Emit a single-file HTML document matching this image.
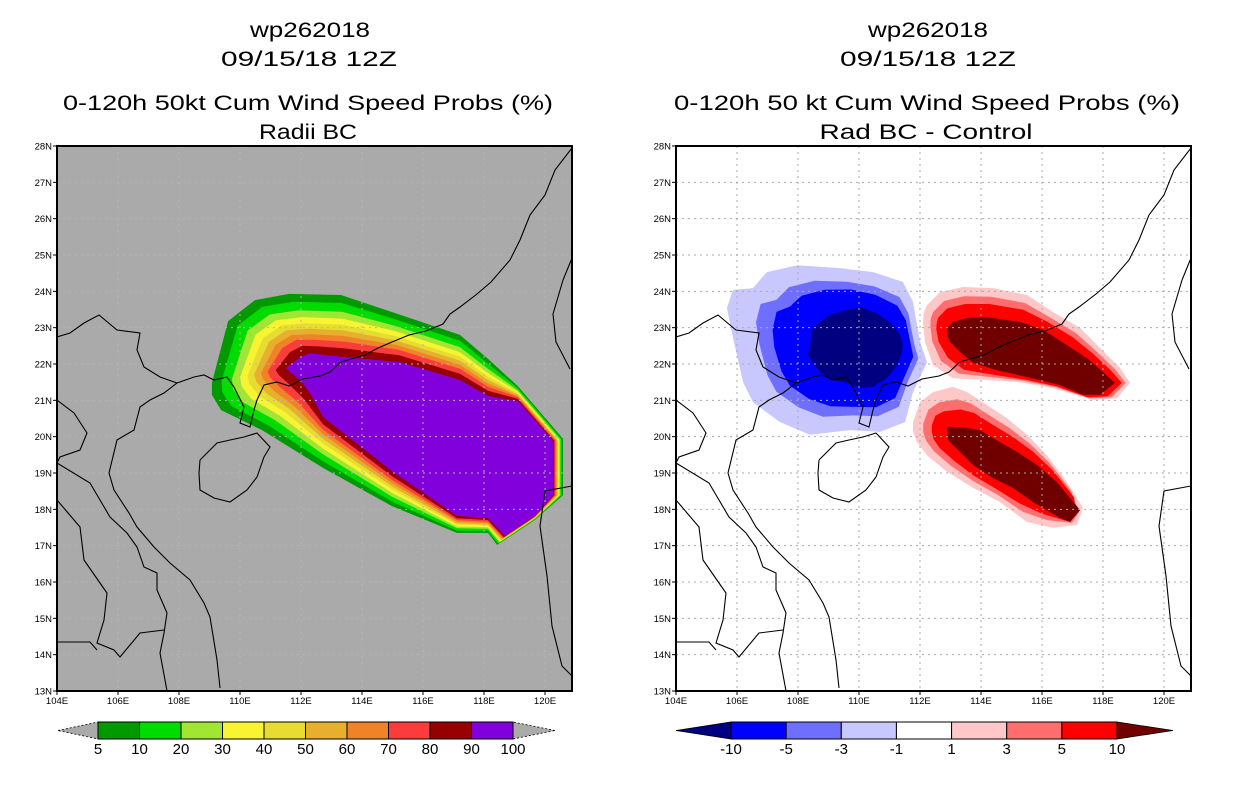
<!DOCTYPE html>
<html><head><meta charset="utf-8">
<style>
html,body{margin:0;padding:0;background:#fff;}
svg{display:block;font-family:"Liberation Sans",sans-serif;}
</style></head>
<body>
<svg id="svg" width="1236" height="800" viewBox="0 0 1236 800" xmlns="http://www.w3.org/2000/svg">
<g font-size="21" text-anchor="middle" fill="#000">
<text x="310" y="37" textLength="120" lengthAdjust="spacingAndGlyphs">wp262018</text>
<text x="309" y="66" textLength="176" lengthAdjust="spacingAndGlyphs">09/15/18 12Z</text>
<text x="308" y="110" textLength="490" lengthAdjust="spacingAndGlyphs">0-120h 50kt Cum Wind Speed Probs (%)</text>
<text x="308" y="139" textLength="98" lengthAdjust="spacingAndGlyphs">Radii BC</text>
</g>
<g font-size="21" text-anchor="middle" fill="#000">
<text x="928" y="37" textLength="120" lengthAdjust="spacingAndGlyphs">wp262018</text>
<text x="928" y="66" textLength="176" lengthAdjust="spacingAndGlyphs">09/15/18 12Z</text>
<text x="927" y="110" textLength="506" lengthAdjust="spacingAndGlyphs">0-120h 50 kt Cum Wind Speed Probs (%)</text>
<text x="926" y="139" textLength="213" lengthAdjust="spacingAndGlyphs">Rad BC - Control</text>
</g>
</svg>
<script>
// ---- data (lon/lat) ----
const lonTicks=[104,106,108,110,112,114,116,118,120];
const latTicks=[28,27,26,25,24,23,22,21,20,19,18,17,16,15,14,13];
const probLevels=[5,10,20,30,40,50,60,70,80,90];
const probColors=['#009a00','#00dc00','#a0e632','#f8f432','#e6dc32','#e6af2d','#f08228','#fa3c3c','#960000','#8200dc'];
const probBlend=[0,0.13,0.27,0.38,0.48,0.57,0.66,0.75,0.86,1];
const probOuterLon=[109.08,109.61,110.49,111.61,113.31,114.98,117.21,118.13,119.11,120.59,120.59,119.67,118.43,118.13,117.11,114.98,112.72,110.72,109.38,109.08];
const probOuterLat=[21.48,23.18,23.76,23.93,23.90,23.43,22.80,22.14,21.39,19.94,18.39,17.71,17.02,17.35,17.35,18.09,19.14,20.18,20.73,21.15];
const probInnerLon=[111.51,111.97,112.30,112.72,113.44,115.25,117.21,118.13,119.11,120.26,120.26,119.67,118.69,118.13,117.11,114.98,112.72,112.30,111.97,111.64];
const probInnerLat=[21.89,22.19,22.30,22.25,22.19,22.05,21.56,21.12,20.98,19.88,18.39,17.82,17.27,17.76,17.82,19.05,20.54,21.20,21.56,21.78];
const diffLabels=['-10','-5','-3','-1','1','3','5','10'];
const diffColors=['#000080','#0000ff','#6e6eff','#c8c8ff','#ffffff','#ffc8c8','#ff6e6e','#ff0000','#700000'];
const blueBlend=[0,0.35,0.55,1];
const blueColors=['#c8c8ff','#6e6eff','#0000ff','#000080'];
const redBlend=[0,0.3,0.55,1];
const redColors=['#ffc8c8','#ff6e6e','#ff0000','#700000'];
const blueOuterLon=[105.67,105.87,106.52,106.98,107.97,109.38,110.46,111.44,111.77,112.00,112.23,111.77,111.51,110.69,109.70,108.39,107.41,106.52,106.20,105.87];
const blueOuterLat=[23.54,24.04,24.09,24.53,24.72,24.64,24.53,24.26,23.71,22.61,22.05,21.23,20.40,20.13,20.18,20.05,20.40,20.95,21.50,22.72];
const blueInnerLon=[108.39,108.46,108.72,109.05,109.61,110.03,110.59,111.11,111.34,111.44,111.41,111.25,110.92,110.46,110.03,109.61,109.15,108.72,108.49,108.33];
const blueInnerLat=[22.44,22.94,23.16,23.35,23.49,23.57,23.40,23.07,22.80,22.52,22.33,21.97,21.61,21.37,21.34,21.48,21.56,21.78,22.05,22.25];
const redUOuterLon=[112.23,112.66,113.41,114.39,115.51,116.36,117.25,117.90,118.56,118.89,118.46,117.67,116.36,115.28,114.20,113.08,112.43,112.16,112.10,112.13];
const redUOuterLat=[23.62,23.98,24.12,24.09,23.90,23.43,22.99,22.44,21.89,21.48,21.06,21.01,21.34,21.50,21.56,21.61,21.97,22.61,23.16,23.43];
const redUInnerLon=[112.89,113.08,113.54,114.20,115.28,116.03,116.82,117.48,118.00,118.39,117.90,117.34,116.59,115.51,114.52,113.74,113.31,112.98,112.89,112.89];
const redUInnerLat=[22.99,23.16,23.27,23.29,23.16,22.94,22.52,22.16,21.78,21.48,21.15,21.15,21.42,21.64,21.83,22.03,22.33,22.61,22.80,22.88];
const redLOuterLon=[111.77,112.00,112.43,113.08,113.54,114.20,114.85,115.51,116.16,116.82,117.34,117.15,116.36,115.51,114.62,113.74,112.89,112.23,111.90,111.77];
const redLOuterLat=[20.40,20.95,21.23,21.37,21.23,20.87,20.51,20.05,19.49,18.75,18.04,17.57,17.49,17.65,18.20,18.59,19.03,19.49,19.85,20.13];
const redLInnerLon=[112.89,112.92,113.08,113.54,113.97,114.39,115.18,115.84,116.49,117.25,116.92,116.59,115.70,115.05,114.39,113.74,113.31,112.98,112.89,112.89];
const redLInnerLat=[20.24,20.27,20.27,20.24,20.18,19.96,19.58,19.22,18.75,17.98,17.65,17.76,18.20,18.59,18.86,19.22,19.58,19.85,19.99,20.13];

// coastline / border outlines (local map geometry)
const coastPaths=[
 [[163,542],[160,514],[153,471],[147,457],[133,434],[113,417],[97,401],[80,381],[72,367],[57,344],[52,327],[60,294],[77,284],[83,261],[93,254],[107,247],[120,237],[137,231],[147,229],[157,234],[170,231],[177,241],[187,261],[183,277],[193,281],[197,264],[200,254],[207,239],[220,236],[232,240],[246,233],[263,230],[273,226],[284,216],[294,213],[308,209],[321,202],[335,196],[352,189],[369,185],[386,178],[393,168],[403,161],[420,148],[434,136],[453,114],[463,94],[473,69],[488,49],[498,24],[515,2]],
 [[0,191],[13,187],[27,177],[42,169],[60,184],[83,187],[80,204],[87,221],[103,231],[120,237]],
 [[0,254],[17,267],[30,287],[23,304],[3,311],[0,317]],
 [[0,317],[33,337],[43,354],[53,371],[70,387],[80,401],[87,421],[100,427],[100,444],[110,467],[107,487],[103,507],[110,545]],
 [[0,354],[23,381],[27,414],[43,437],[50,447],[47,474],[40,497],[57,504],[63,511],[83,487],[107,484]],
 [[0,496],[33,496],[40,504]],
 [[143,314],[160,297],[173,294],[187,291],[200,287],[213,301],[207,311],[200,331],[190,344],[173,356],[157,352],[143,344],[142,327],[143,314]],
 [[515,112],[506,134],[496,168],[499,196],[513,223]],
 [[515,340],[488,345],[483,380],[490,430],[495,480],[505,520],[515,530]]
];

const NS='http://www.w3.org/2000/svg';
const svg=document.getElementById('svg');
const PW=515, PH=545, TOP=146;
function mk(tag,attrs,parent){const e=document.createElementNS(NS,tag);for(const k in attrs)e.setAttribute(k,attrs[k]);(parent||svg).appendChild(e);return e;}
function xs(x0,lon){return x0+(lon-104)*30.5;}
function ys(lat){return TOP+(28-lat)*36.333;}
function blendPts(x0,oLon,oLat,iLon,iLat,t){
  return oLon.map((v,i)=>{const lo=v+(iLon[i]-v)*t, la=oLat[i]+(iLat[i]-oLat[i])*t;return xs(x0,lo).toFixed(1)+','+ys(la).toFixed(1);}).join(' ');
}

function panel(x0,bg,name,gridColor){
  const g=mk('g',{});
  
  
  const clipId=name+'-clip';
  const cp=mk('clipPath',{id:clipId},g);mk('rect',{x:x0,y:TOP,width:PW,height:PH},cp);
  const bgR=mk('rect',{x:x0,y:TOP,width:PW,height:PH,fill:bg},g);
  
  
  const inner=mk('g',{'clip-path':'url(#'+clipId+')'},g);
  return {g,inner,x0,gridColor,name};
}
function drawBands(P,oLon,oLat,iLon,iLat,blend,colors,label){
  blend.forEach((t,i)=>{
    const p=mk('polygon',{points:blendPts(P.x0,oLon,oLat,iLon,iLat,t),fill:colors[i]},P.inner);
    
    
  });
}
function finishPanel(P){
  const x0=P.x0;
  const grid=mk('g',{stroke:P.gridColor,'stroke-width':1,'stroke-dasharray':'2,4'},P.inner);
  
  
  lonTicks.forEach(l=>{if(l>104)mk('line',{x1:xs(x0,l),x2:xs(x0,l),y1:TOP,y2:TOP+PH},grid);});
  latTicks.forEach(l=>{if(l<28&&l>13)mk('line',{x1:x0,x2:x0+PW,y1:ys(l),y2:ys(l)},grid);});
  const coast=mk('g',{fill:'none',stroke:'#000','stroke-width':1.1},P.inner);
  
  
  coastPaths.forEach(pts=>{mk('polyline',{points:pts.map(p=>(x0+p[0])+','+(TOP+p[1])).join(' ')},coast);});
  const fr=mk('rect',{x:x0,y:TOP,width:PW,height:PH,fill:'none',stroke:'#000','stroke-width':2},P.g);
  
  
  const ax=mk('g',{'font-size':9.5,fill:'#000'},P.g);
  
  
  latTicks.forEach(l=>{
    mk('line',{x1:x0-4,x2:x0,y1:ys(l),y2:ys(l),stroke:'#000'},ax);
    const t=mk('text',{x:x0-5,y:ys(l)+3.5,'text-anchor':'end'},ax);t.textContent=l+'N';
    
    
  });
  lonTicks.forEach(l=>{
    mk('line',{x1:xs(x0,l),x2:xs(x0,l),y1:TOP+PH,y2:TOP+PH+4,stroke:'#000'},ax);
    const t=mk('text',{x:xs(x0,l),y:TOP+PH+13,'text-anchor':'middle'},ax);t.textContent=l+'E';
    
    
  });
}

// left panel
const L=panel(57,'#aaaaaa','left','#b4b4b4');
drawBands(L,probOuterLon,probOuterLat,probInnerLon,probInnerLat,probBlend,probColors,'prob');
finishPanel(L);
// right panel
const R=panel(676,'#ffffff','right','#aaaaaa');
drawBands(R,blueOuterLon,blueOuterLat,blueInnerLon,blueInnerLat,blueBlend,blueColors,'negative');
drawBands(R,redUOuterLon,redUOuterLat,redUInnerLon,redUInnerLat,redBlend,redColors,'positive-north');
drawBands(R,redLOuterLon,redLOuterLat,redLInnerLon,redLInnerLat,redBlend,redColors,'positive-south');
finishPanel(R);

// colorbars
function colorbar(x0,x1,tipL,tipR,colors,labels,leftTip,rightTip,name,labelAtStart){
  const g=mk('g',{});
  
  
  const y0=722,y1=739,ym=730.5;
  const w=(x1-x0)/colors.length;
  const tl=mk('polygon',{points:`${tipL},${ym} ${x0},${y0} ${x0},${y1}`,fill:leftTip,stroke:'#000','stroke-width':0.8,'stroke-dasharray':leftTip==='#aaaaaa'?'2,2':''},g);
  
  
  const tr=mk('polygon',{points:`${tipR},${ym} ${x1},${y0} ${x1},${y1}`,fill:rightTip,stroke:'#000','stroke-width':0.8,'stroke-dasharray':rightTip==='#aaaaaa'?'2,2':''},g);
  
  
  colors.forEach((c,i)=>{
    const r=mk('rect',{x:x0+i*w,y:y0,width:w,height:y1-y0,fill:c,stroke:'#000','stroke-width':1},g);
    
    
  });
  labels.forEach((lab,i)=>{
    const t=mk('text',{x:x0+(i+(labelAtStart?0:1))*w,y:754,'font-size':15,'text-anchor':'middle'},g);
    t.textContent=lab;
    
    
  });
}
colorbar(98,513,58,555,probColors,['5','10','20','30','40','50','60','70','80','90','100'],'#aaaaaa','#aaaaaa','prob-colorbar',true);
const midColors=diffColors.slice(1,8);
colorbar(731,1117,676,1173,midColors,diffLabels,diffColors[0],diffColors[8],'diff-colorbar',true);
</script>
</body></html>
